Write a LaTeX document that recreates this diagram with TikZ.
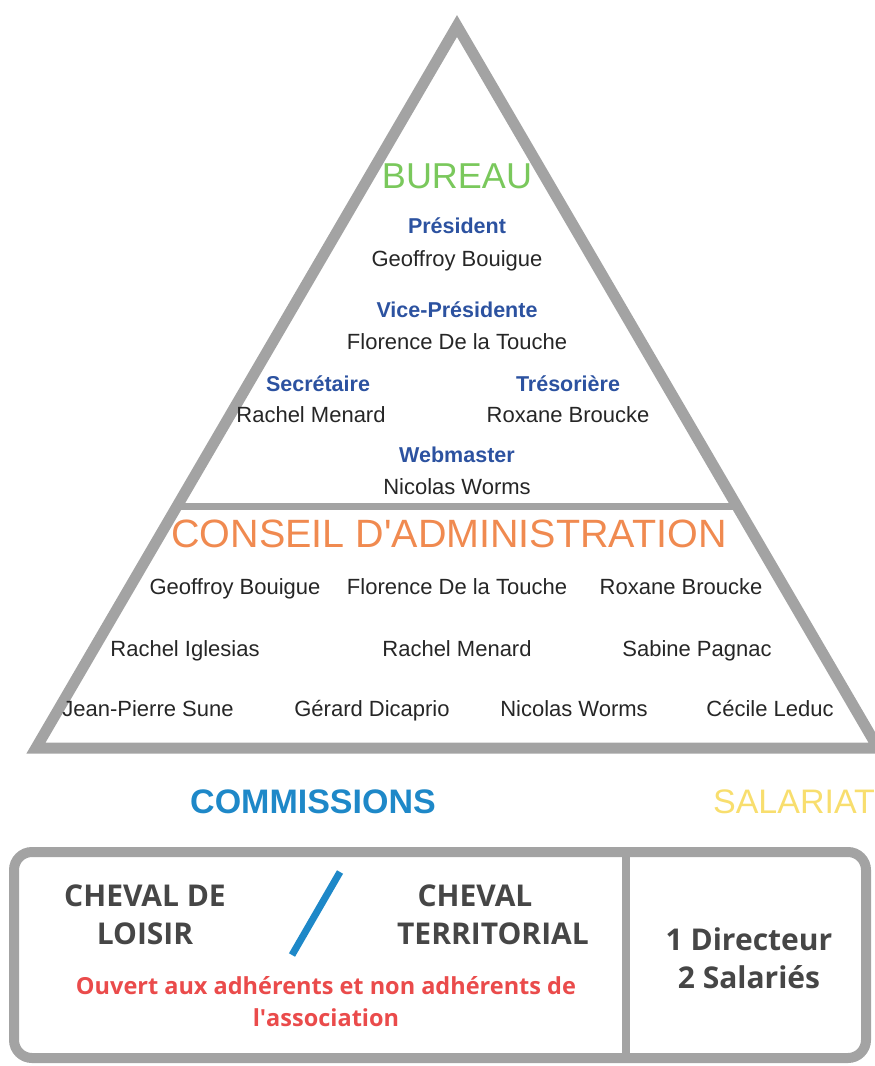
\documentclass[tikz,border=0pt]{standalone}
\usepackage{fontspec}
\setmainfont{Liberation Sans}
\newfontfamily\opensans{Open Sans}
\usetikzlibrary{positioning}

\definecolor{pyrgray}{RGB}{163,163,163}
\definecolor{bureaugreen}{RGB}{122,200,92}
\definecolor{roleblue}{RGB}{44,82,160}
\definecolor{caorange}{RGB}{240,138,80}
\definecolor{comblue}{RGB}{30,136,200}
\definecolor{salyellow}{RGB}{248,222,110}
\definecolor{openred}{RGB}{234,75,75}
\definecolor{boxgray}{RGB}{70,70,70}

\tikzset{
  txt/.style={inner sep=0pt, anchor=base},
  headtxt/.style={txt, font=\fontsize{36}{36}\selectfont},
  roletxt/.style={txt, text=roleblue, font=\fontsize{21.5}{21.5}\selectfont\bfseries},
  person/.style={txt, text=black!85, font=\fontsize{22}{22}\selectfont},
  boxtxt/.style={txt, text=boxgray, font=\opensans\bfseries\fontsize{30}{30}\selectfont},
  frame/.style={draw=pyrgray, line join=miter}
}

\begin{document}
\begin{tikzpicture}[x=1pt, y=-1pt]
\useasboundingbox (0,0) rectangle (875,1066);

% pyramide
\draw[frame, line width=11pt] (457,26) coordinate (apex) -- (36,748) coordinate (bl)
  -- (878,748) coordinate (br) -- cycle;
\draw[frame, line width=7pt] (177,506) coordinate (cl) -- (737,506) coordinate (cr);

% bureau
\node[headtxt, text=bureaugreen] at (457,188) (bureau) {BUREAU};
\node[roletxt] at (457,233) (pres) {Président};
\node[person] at (457,266) (presn) {Geoffroy Bouigue};
\node[roletxt] at (457,317) (vpres) {Vice-Présidente};
\node[person] at (457,349) (vpresn) {Florence De la Touche};
\node[roletxt] at (318,391) (secr) {Secrétaire};
\node[person] at (311,422) (secrn) {Rachel Menard};
\node[roletxt] at (568,391) (tres) {Trésorière};
\node[person] at (568,422) (tresn) {Roxane Broucke};
\node[roletxt] at (457,462) (web) {Webmaster};
\node[person] at (457,494) (webn) {Nicolas Worms};

% conseil d'administration
\node[headtxt, text=caorange, font=\fontsize{39.5}{39.5}\selectfont] at (449,547) (ca) {CONSEIL D\textquotesingle ADMINISTRATION};
\foreach \x/\y/\n [count=\i] in {235/594/Geoffroy Bouigue, 457/594/Florence De la Touche,
    681/594/Roxane Broucke, 185/656/Rachel Iglesias, 457/656/Rachel Menard,
    697/656/Sabine Pagnac, 148/716/Jean-Pierre Sune, 372/716/Gérard Dicaprio,
    574/716/Nicolas Worms, 770/716/Cécile Leduc}
  \node[person] at (\x,\y) (ca\i) {\n};

% commissions / salariat
\node[headtxt, text=comblue, font=\fontsize{34}{34}\selectfont\bfseries] at (313,813) (com) {COMMISSIONS};
\node[headtxt, text=salyellow, font=\fontsize{34}{34}\selectfont] at (794,813) (sal) {SALARIAT};

\draw[frame, line width=10pt, rounded corners=18pt] (14,852) rectangle (866,1058);
\draw[frame, line width=8pt] (626,852) coordinate (dtop) -- (626,1058) coordinate (dbot);
\draw[comblue, line width=7pt] (340,872) coordinate (s1) -- (292,955) coordinate (s2);

\node[boxtxt] at (145,906) (loisir1) {CHEVAL DE};
\node[boxtxt] at (145,944) (loisir2) {LOISIR};
\node[boxtxt] at (475,906) (terr1) {CHEVAL};
\node[boxtxt] at (493,944) (terr2) {TERRITORIAL};
\node[boxtxt, text=openred, font=\opensans\bfseries\fontsize{23.5}{23.5}\selectfont] at (326,994) (open1) {Ouvert aux adhérents et non adhérents de};
\node[boxtxt, text=openred, font=\opensans\bfseries\fontsize{23.5}{23.5}\selectfont] at (326,1026) (open2) {l\textquotesingle association};
\node[boxtxt] at (749,950) (dir) {1 Directeur};
\node[boxtxt] at (749,988) (sala) {2 Salariés};
\end{tikzpicture}
\end{document}
